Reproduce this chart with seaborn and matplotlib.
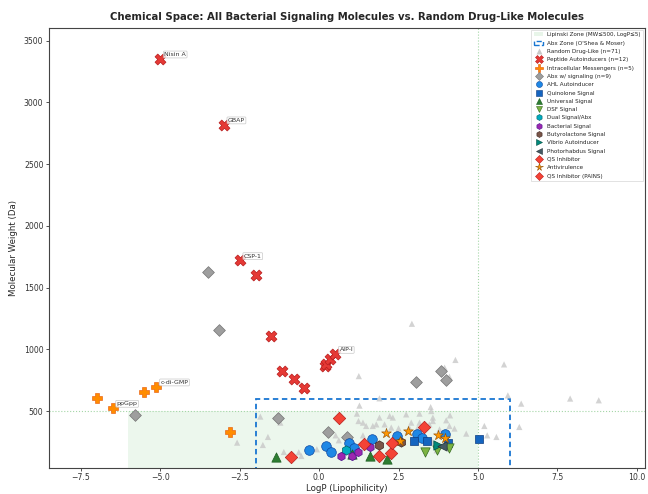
import matplotlib
matplotlib.use("Agg")
import matplotlib.pyplot as plt
import seaborn as sns
import numpy as np
import pandas as pd
from matplotlib.patches import Rectangle, Patch
from matplotlib.lines import Line2D

# ---------------- data ----------------
random_logp = [2.92, 1.25, 4.29, 5.82, 1.9, 5.94, 6.36, 7.9, 8.8, 1.27, 3.51, 3.95, 4.1,
               4.12, 4.0, 4.1, 4.26, 4.63, 5.2, 5.29, 5.58, 6.3, 3.53, 2.74, 1.9, 2.22,
               2.32, 3.16, 3.58, 1.38, 1.48, 1.69, 1.8, 2.06, 2.27, 2.5, 2.9, 3.16, 3.47,
               3.58, 3.79, -1.85, -1.22, -1.61, -1.77, -1.11, -0.64, -0.56, -0.07, 0.62,
               0.52, 1.19, 1.24, -2.58, 2.85, 3.09, 1.38, 3.58, 0.94, 1.66, 2.44, 3.09,
               0.38, 1.88, 2.79, 3.4, 3.7, 1.4, 2.27, 1.05, 3.23]
random_mw = [1207, 783, 914, 878, 603, 627, 560, 601, 587, 544, 532, 851, 778,
             465, 425, 379, 358, 317, 379, 303, 290, 371, 500, 473, 447, 460,
             447, 479, 447, 406, 379, 379, 392, 392, 366, 360, 406, 406, 392,
             419, 352, 455, 406, 290, 225, 168, 166, 136, 190, 263,
             303, 479, 419, 244, 358, 358, 303, 249, 239, 271, 298, 311,
             168, 228, 338, 257, 182, 231, 163, 136, 283]

peptide_names = ["Nisin A", "GBAP", "CSP-1", "", "", "", "", "", "", "", "", "AIP-I"]
peptide_logp = [-5.0, -3.0, -2.5, -2.0, -1.5, -1.18, -0.8, -0.49, 0.17, 0.22, 0.35, 0.51]
peptide_mw = [3354, 2820, 1720, 1605, 1105, 821, 756, 684, 862, 880, 924, 961]

messenger_names = ["", "ppGpp", "", "c-di-GMP", ""]
messenger_logp = [-7.0, -6.5, -5.5, -5.12, -2.81]
messenger_mw = [603, 524, 657, 697, 330]

abx_logp = [-5.8, -3.5, -3.15, -1.3, 0.28, 0.89, 3.06, 3.84, 4.0]
abx_mw = [468, 1625, 1159, 447, 333, 290, 738, 824, 752]

ahl_logp = [-0.33, 0.22, 0.38, 0.94, 1.09, 1.66, 2.44, 3.09, 3.23, 3.97]
ahl_mw = [184, 214, 168, 239, 198, 271, 298, 311, 283, 311]

quinolone_logp = [3.0, 3.4, 4.05, 5.02]
quinolone_mw = [257, 257, 244, 277]

universal_logp = [-1.37, 1.03, 1.59, 2.14]
universal_mw = [130, 150, 136, 115]

dsf_logp = [3.34, 3.7, 4.08]
dsf_mw = [172, 182, 198]

dual_logp = [0.85]
dual_mw = [184]

bacterial_logp = [0.68, 1.05, 1.22, 1.59]
bacterial_mw = [136, 136, 168, 212]

butyro_logp = [1.88, 2.59]
butyro_mw = [228, 247]

vibrio_logp = [3.74]
vibrio_mw = [222]

photo_logp = [3.87]
photo_mw = [218]

qsi_logp = [0.64, -0.87, 1.4, 2.27, 3.29]
qsi_mw = [447, 125, 231, 163, 371]

antivir_logp = [2.09, 2.79, 3.75, 2.55, 3.95]
antivir_mw = [320, 338, 303, 259, 285]

pains_logp = [1.9, 2.3]
pains_mw = [133, 244]

# ---------------- plot ----------------
sns.set_style("ticks")
plt.rcParams['font.family'] = ['DejaVu Sans']

fig = plt.figure(figsize=(6.48, 4.94), dpi=100)
ax = fig.add_axes([0.0756, 0.053, 0.9195, 0.890])

# zones
ax.add_patch(Rectangle((-6, 0), 11, 500, facecolor="#e8f5e9", edgecolor="none", alpha=0.8, zorder=0))
ax.axvline(5, color="#a5d6a7", linestyle=":", linewidth=0.8, zorder=0)
ax.axhline(500, color="#a5d6a7", linestyle=":", linewidth=0.8, zorder=0)
ax.add_patch(Rectangle((-2, 0), 8, 600, facecolor="none", edgecolor="#1976d2",
                       linestyle=(0, (3, 2)), linewidth=1.3, zorder=1))

def sc(xs, ys, marker, color, s, ec, lw=0.5, alpha=1.0, z=3):
    sns.scatterplot(x=xs, y=ys, marker=marker, color=color, s=s, edgecolor=ec,
                    linewidth=lw, alpha=alpha, ax=ax, zorder=z, legend=False)

sc(random_logp, random_mw, "^", "#c8c8c8", 20, "none", 0, 0.8, 2)
sc(peptide_logp, peptide_mw, "X", "#e53935", 62, "#b71c1c", 0.5)
sc(messenger_logp, messenger_mw, "P", "#ff8c00", 58, "#e65100", 0.4)
sc(abx_logp, abx_mw, "D", "#9e9e9e", 36, "#757575", 0.5)
sc(ahl_logp, ahl_mw, "o", "#1e88e5", 48, "#0d47a1", 0.5)
sc(quinolone_logp, quinolone_mw, "s", "#1565c0", 40, "#0d3c80", 0.5)
sc(universal_logp, universal_mw, "^", "#2e7d32", 45, "#1b5e20", 0.5)
sc(dsf_logp, dsf_mw, "v", "#7cb342", 45, "#33691e", 0.5)
sc(dual_logp, dual_mw, "h", "#00acc1", 45, "#006064", 0.5)
sc(bacterial_logp, bacterial_mw, "h", "#9c27b0", 36, "#4a148c", 0.5)
sc(butyro_logp, butyro_mw, "h", "#795548", 45, "#3e2723", 0.5)
sc(vibrio_logp, vibrio_mw, ">", "#00897b", 45, "#004d40", 0.5)
sc(photo_logp, photo_mw, "<", "#455a64", 45, "#263238", 0.5)
sc(qsi_logp, qsi_mw, "D", "#f44336", 40, "#b71c1c", 0.5)
sc(antivir_logp, antivir_mw, "*", "#ff9800", 55, "#8d4a00", 0.4)
sc(pains_logp, pains_mw, "D", "#f44336", 40, "#b71c1c", 0.5)

# labels
bbox = dict(boxstyle="round,pad=0.15", facecolor="white", edgecolor="#bbbbbb", linewidth=0.5, alpha=0.8)
for xs, ys, names in [(peptide_logp, peptide_mw, peptide_names),
                      (messenger_logp, messenger_mw, messenger_names)]:
    for x, y, n in zip(xs, ys, names):
        if n:
            ax.annotate(n, (x, y), xytext=(3, 2), textcoords="offset points",
                        fontsize=4.5, color="#333333", bbox=bbox, zorder=6)

ax.set_xlim(-8.5, 10.25)
ax.set_ylim(40, 3602)
ax.set_xticks([-7.5, -5.0, -2.5, 0.0, 2.5, 5.0, 7.5, 10.0])
ax.set_yticks([500, 1000, 1500, 2000, 2500, 3000, 3500])
ax.tick_params(labelsize=5.6, length=2.5, width=0.6, colors="#333333", pad=1.5)
for sp in ax.spines.values():
    sp.set_visible(True)
    sp.set_linewidth(0.8)
    sp.set_color("#444444")
ax.set_xlabel("LogP (Lipophilicity)", fontsize=6.2, labelpad=1.5)
ax.set_ylabel("Molecular Weight (Da)", fontsize=6.2, labelpad=4)
ax.set_title("Chemical Space: All Bacterial Signaling Molecules vs. Random Drug-Like Molecules",
             fontsize=7.3, fontweight="bold", pad=6)

def mk(marker, color, ec, ms=4.3):
    return Line2D([], [], linestyle="none", marker=marker, markerfacecolor=color,
                  markeredgecolor=ec, markeredgewidth=0.4, markersize=ms)

handles = [
    Patch(facecolor="#e8f5e9", edgecolor="none"),
    Patch(facecolor="none", edgecolor="#1976d2", linestyle="--", linewidth=1.0),
    mk("^", "#c8c8c8", "none", 4),
    mk("X", "#e53935", "#b71c1c", 6),
    mk("P", "#ff8c00", "#e65100", 6),
    mk("D", "#9e9e9e", "#757575", 4.5),
    mk("o", "#1e88e5", "#0d47a1"),
    mk("s", "#1565c0", "#0d3c80"),
    mk("^", "#2e7d32", "#1b5e20"),
    mk("v", "#7cb342", "#33691e"),
    mk("h", "#00acc1", "#006064"),
    mk("h", "#9c27b0", "#4a148c"),
    mk("h", "#795548", "#3e2723"),
    mk(">", "#00897b", "#004d40"),
    mk("<", "#455a64", "#263238"),
    mk("D", "#f44336", "#b71c1c"),
    mk("*", "#ff9800", "#8d4a00", 5.5),
    mk("D", "#f44336", "#b71c1c"),
]
labels = [
    "Lipinski Zone (MW≤500, LogP≤5)",
    "Abx Zone (O'Shea & Moser)",
    "Random Drug-Like (n=71)",
    "Peptide Autoinducers (n=12)",
    "Intracellular Messengers (n=5)",
    "Abx w/ signaling (n=9)",
    "AHL Autoinducer",
    "Quinolone Signal",
    "Universal Signal",
    "DSF Signal",
    "Dual Signal/Abx",
    "Bacterial Signal",
    "Butyrolactone Signal",
    "Vibrio Autoinducer",
    "Photorhabdus Signal",
    "QS Inhibitor",
    "Antivirulence",
    "QS Inhibitor (PAINS)",
]
leg = ax.legend(handles, labels, loc="upper right", fontsize=4.1, frameon=True,
                borderaxespad=0.3, labelspacing=0.58, handlelength=1.6, handletextpad=0.7,
                borderpad=0.45, fancybox=False)
leg.get_frame().set_edgecolor("#cccccc")
leg.get_frame().set_linewidth(0.5)

fig.savefig("out.png", dpi=100)
